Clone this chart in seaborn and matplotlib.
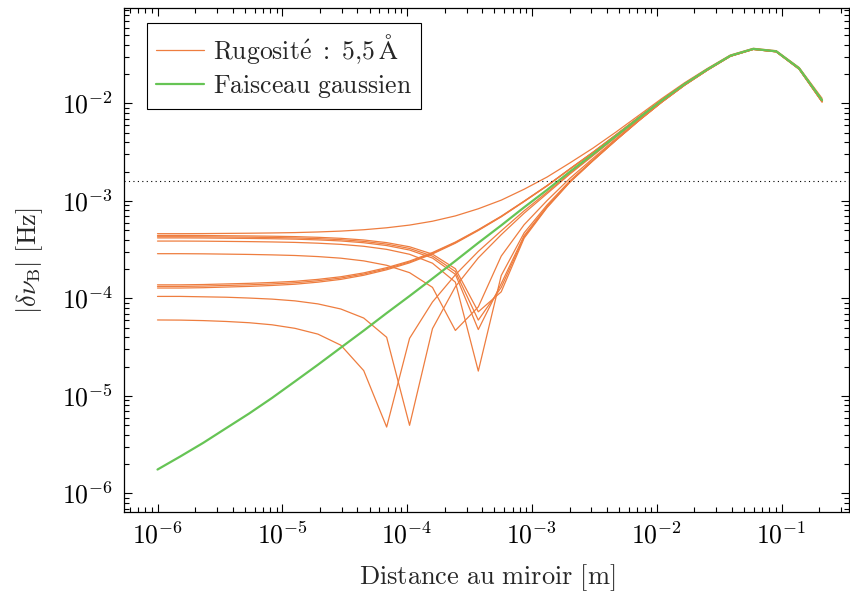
import numpy as np
import pandas as pd
import matplotlib
matplotlib.use("Agg")
import matplotlib.pyplot as plt
import matplotlib.ticker as ticker
from matplotlib.lines import Line2D
import seaborn as sns

# distance au miroir [m]
distance = [1.000e-6, 1.526e-6, 2.329e-6, 3.554e-6, 5.424e-6, 8.277e-6,
            1.263e-5, 1.928e-5, 2.942e-5, 4.490e-5, 6.855e-5, 1.046e-4,
            1.596e-4, 2.436e-4, 3.718e-4, 5.675e-4, 8.660e-4, 1.322e-3,
            2.017e-3, 3.079e-3, 4.699e-3, 7.171e-3, 1.094e-2, 1.670e-2,
            2.549e-2, 3.890e-2, 5.937e-2, 9.062e-2, 0.1383, 0.2111]

# all shifts in units of 1e-4 Hz
unit = 1e-4

gaussien = [0.0176, 0.0240, 0.0331, 0.0468, 0.0661, 0.0955, 0.141, 0.209, 0.313, 0.468,
            0.708, 1.06, 1.60, 2.43, 3.72, 5.62, 8.61, 13.0, 20.0, 30.2,
            46.2, 70.8, 107, 158, 224, 309, 363, 343, 229, 108]

# rugosite 5.5 A, one list per surface
rug_a = [4.62, 4.62, 4.63, 4.65, 4.67, 4.70, 4.74, 4.81, 4.91, 5.07,
         5.31, 5.66, 6.20, 7.03, 8.32, 10.2, 13.2, 17.6, 24.6, 34.8,
         50.8, 75.4, 112, 163, 229, 314, 368, 348, 234, 113]
rug_b1 = [4.43, 4.43, 4.42, 4.40, 4.38, 4.35, 4.31, 4.24, 4.14, 3.98,
          3.74, 3.39, 2.85, 2.02, 0.73, 1.17, 4.16, 8.55, 15.6, 25.8,
          41.8, 66.4, 103, 154, 220, 305, 359, 339, 225, 104]
rug_b2 = [4.30, 4.30, 4.29, 4.27, 4.25, 4.22, 4.18, 4.11, 4.01, 3.85,
          3.61, 3.26, 2.72, 1.89, 0.60, 1.30, 4.29, 8.68, 15.7, 25.9,
          41.9, 66.5, 103, 154, 220, 305, 359, 339, 225, 104]
rug_b3 = [4.18, 4.18, 4.17, 4.15, 4.13, 4.10, 4.06, 3.99, 3.89, 3.73,
          3.49, 3.14, 2.60, 1.77, 0.48, 1.42, 4.41, 8.80, 15.8, 26.0,
          42.0, 66.6, 103, 154, 220, 305, 359, 339, 225, 104]
rug_c = [3.88, 3.88, 3.87, 3.85, 3.83, 3.80, 3.76, 3.69, 3.59, 3.43,
         3.19, 2.84, 2.30, 1.47, 0.18, 1.72, 4.71, 9.10, 16.1, 26.3,
         42.3, 66.9, 103, 154, 220, 305, 359, 339, 225, 104]
rug_d = [2.88, 2.88, 2.87, 2.85, 2.83, 2.80, 2.76, 2.69, 2.59, 2.43,
         2.19, 1.84, 1.30, 0.47, 0.82, 2.72, 5.71, 10.1, 17.1, 27.3,
         43.3, 67.9, 104, 155, 221, 306, 360, 340, 226, 105]
rug_e1 = [1.38, 1.38, 1.39, 1.41, 1.43, 1.46, 1.50, 1.57, 1.67, 1.83,
          2.07, 2.42, 2.96, 3.79, 5.08, 6.98, 9.97, 14.4, 21.4, 31.6,
          47.6, 72.2, 108, 159, 225, 310, 364, 344, 230, 109]
rug_e2 = [1.33, 1.33, 1.34, 1.36, 1.38, 1.41, 1.45, 1.52, 1.62, 1.78,
          2.02, 2.37, 2.91, 3.74, 5.03, 6.93, 9.92, 14.3, 21.3, 31.5,
          47.5, 72.1, 108, 159, 225, 310, 364, 344, 230, 109]
rug_e3 = [1.28, 1.28, 1.29, 1.31, 1.33, 1.36, 1.40, 1.47, 1.57, 1.73,
          1.97, 2.32, 2.86, 3.69, 4.98, 6.88, 9.87, 14.3, 21.3, 31.5,
          47.5, 72.1, 108, 159, 225, 310, 364, 344, 230, 109]
rug_f = [1.05, 1.05, 1.04, 1.03, 1.01, 0.985, 0.945, 0.88, 0.78, 0.63,
         0.40, 0.05, 0.49, 1.32, 2.61, 4.51, 7.50, 11.9, 18.9, 29.1,
         45.1, 69.7, 106, 157, 223, 308, 362, 342, 228, 107]
rug_g = [0.602, 0.600, 0.593, 0.581, 0.564, 0.537, 0.494, 0.431, 0.332, 0.182,
         0.048, 0.39, 0.92, 1.75, 3.04, 4.94, 7.93, 12.3, 19.3, 29.5,
         45.5, 70.1, 106, 157, 223, 308, 362, 342, 228, 107]

seuil = 1.6e-3  # dotted level

rugosite = {"a": rug_a, "b1": rug_b1, "b2": rug_b2, "b3": rug_b3, "c": rug_c,
            "d": rug_d, "e1": rug_e1, "e2": rug_e2, "e3": rug_e3,
            "f": rug_f, "g": rug_g}

# long table for seaborn
rows = []
for name, vals in rugosite.items():
    for d, v in zip(distance, vals):
        rows.append({"surface": name, "distance": d, "shift": v * unit})
df_rug = pd.DataFrame(rows)
df_gauss = pd.DataFrame({"distance": distance,
                         "shift": np.array(gaussien) * unit})

orange = "#EE7D3F"
green = "#66C455"

sns.set_theme(style="ticks")
plt.rcParams["mathtext.fontset"] = "cm"
plt.rcParams["axes.unicode_minus"] = False

fig, ax = plt.subplots(figsize=(8.5, 5.96), dpi=100)
fig.subplots_adjust(left=0.146, right=0.999, bottom=0.141, top=0.986)

sns.lineplot(data=df_rug, x="distance", y="shift", units="surface",
             estimator=None, color=orange, lw=0.9, ax=ax)
sns.lineplot(data=df_gauss, x="distance", y="shift",
             color=green, lw=1.6, ax=ax)
ax.axhline(seuil, color="black", ls=(0, (1, 3)), lw=0.8)

ax.set_xscale("log")
ax.set_yscale("log")
ax.set_xlim(5.4e-7, 0.348)
ax.set_ylim(6.46e-7, 0.0946)

fs = 18.5
fmt = ticker.FuncFormatter(lambda v, p: r"$10^{%d}$" % round(np.log10(v)))
for axis in (ax.xaxis, ax.yaxis):
    axis.set_major_locator(ticker.LogLocator(base=10, numticks=20))
    axis.set_minor_locator(ticker.LogLocator(base=10, subs=np.arange(2, 10), numticks=100))
    axis.set_major_formatter(fmt)
    axis.set_minor_formatter(ticker.NullFormatter())

ax.tick_params(which="both", direction="in", top=True, right=True,
               width=0.8, colors="black", labelsize=fs)
ax.tick_params(which="major", length=6, pad=8)
ax.tick_params(which="minor", length=3.5)
for s in ax.spines.values():
    s.set_color("black")
    s.set_linewidth(0.9)

ax.set_xlabel(r"$\mathrm{Distance\ au\ miroir\ [m]}$", fontsize=19, labelpad=9)
ax.set_ylabel(r"$|\delta\nu_{\mathrm{B}}|\ \mathrm{[Hz]}$", fontsize=19, labelpad=12)

handles = [Line2D([], [], color=orange, lw=0.9),
           Line2D([], [], color=green, lw=1.6)]
labels = [r"$\mathrm{Rugosit\acute{e}\ :\ 5{,}5\,\AA}$",
          r"$\mathrm{Faisceau\ gaussien}$"]
leg = ax.legend(handles, labels, loc="upper left", bbox_to_anchor=(0.031, 0.970),
                borderaxespad=0, fontsize=fs, frameon=True, fancybox=False,
                framealpha=1, edgecolor="black", handlelength=1.9,
                handletextpad=0.35, labelspacing=0.25, borderpad=0.35)
leg.get_frame().set_linewidth(0.8)

plt.savefig("out.png", dpi=100)
